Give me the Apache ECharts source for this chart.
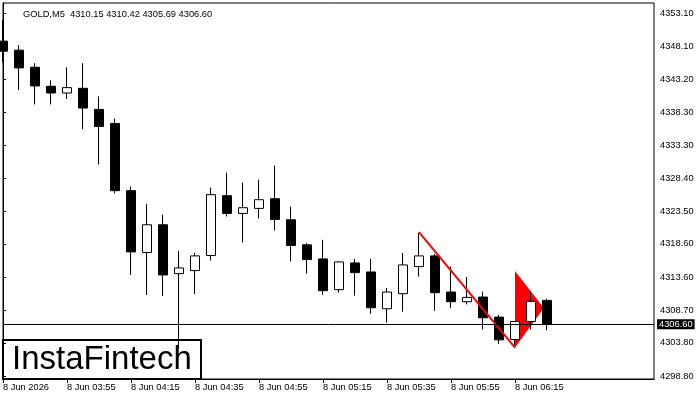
<!DOCTYPE html>
<html>
<head>
<meta charset="utf-8">
<script src="https://cdn.jsdelivr.net/npm/echarts@6/dist/echarts.min.js"></script>
<style>
  html, body { margin: 0; padding: 0; background: #fff; }
  #main { width: 700px; height: 400px; }
</style>
</head>
<body>
<div id="main"></div>
<script>
// 5 minute bars, 8 Jun
var times = ['03:35', '03:40', '03:45', '03:50', '03:55', '04:00', '04:05', '04:10', '04:15', '04:20',
             '04:25', '04:30', '04:35', '04:40', '04:45', '04:50', '04:55', '05:00', '05:05', '05:10',
             '05:15', '05:20', '05:25', '05:30', '05:35', '05:40', '05:45', '05:50', '05:55', '06:00',
             '06:05', '06:10', '06:15', '06:20', '06:25'];
var opens = [4348.90, 4347.55, 4345.00, 4342.15, 4341.15, 4341.85, 4338.70, 4336.60, 4326.55, 4317.30,
             4321.45, 4314.15, 4314.60, 4316.85, 4325.80, 4323.15, 4323.90, 4325.35, 4322.20, 4318.45,
             4316.35, 4311.75, 4315.75, 4314.40, 4308.90, 4311.15, 4315.20, 4316.80, 4311.40, 4309.95,
             4310.65, 4307.65, 4304.30, 4307.00, 4310.15];
var closes = [4347.40, 4344.90, 4342.20, 4341.15, 4341.95, 4338.90, 4336.15, 4326.55, 4317.40, 4321.45,
              4313.95, 4315.00, 4316.80, 4325.95, 4323.15, 4324.00, 4325.20, 4322.25, 4318.35, 4316.25,
              4311.60, 4315.90, 4314.30, 4309.05, 4311.40, 4315.45, 4316.80, 4311.30, 4309.95, 4310.60,
              4307.55, 4304.25, 4307.00, 4310.00, 4306.60];
var lows = [4345.75, 4341.60, 4339.45, 4339.45, 4340.25, 4335.75, 4330.45, 4326.15, 4313.95, 4310.95,
            4310.80, 4303.00, 4311.10, 4316.10, 4322.70, 4318.80, 4322.40, 4320.60, 4315.95, 4314.15,
            4311.00, 4311.30, 4310.85, 4308.15, 4306.80, 4308.45, 4313.70, 4308.60, 4309.00, 4309.55,
            4305.80, 4303.65, 4303.00, 4305.80, 4305.69];
var highs = [4352.05, 4348.30, 4345.60, 4343.05, 4345.00, 4345.60, 4340.65, 4337.35, 4327.15, 4324.60,
             4322.95, 4317.55, 4317.25, 4327.00, 4329.25, 4327.75, 4328.20, 4330.30, 4324.15, 4318.75,
             4319.20, 4315.95, 4316.35, 4316.35, 4312.00, 4317.25, 4320.25, 4317.10, 4315.20, 4313.65,
             4311.45, 4308.00, 4307.05, 4311.45, 4310.42];

var priceTicks = [4298.80, 4303.80, 4308.70, 4313.60, 4318.60, 4323.50, 4328.40, 4333.30,
                  4338.30, 4343.20, 4348.10, 4353.10];
var timeTicks = [0, 4, 8, 12, 16, 20, 24, 28, 32];

// bearish pennant: pole and flag (bar index, price)
var poleX = [26, 32];
var poleY = [4320.34, 4303.10];
var flagX = [32, 32, 33.8];
var flagY = [4314.55, 4303.10, 4309.00];

var last = closes.length - 1;
var headerText = 'GOLD,M5  ' + opens[last].toFixed(2) + ' ' + highs[last].toFixed(2) + ' ' +
                 lows[last].toFixed(2) + ' ' + closes[last].toFixed(2);

var candles = times.map(function (t, i) {
    return [i, opens[i], closes[i], lows[i], highs[i]];
});
var pole = poleX.map(function (x, i) { return [x, poleY[i]]; });
var flag = flagX.map(function (x, i) { return [x, flagY[i]]; });

var font = 'Liberation Sans';
var chart = echarts.init(document.getElementById('main'), null, { renderer: 'canvas' });

chart.setOption({
    animation: false,
    backgroundColor: '#fff',
    title: {
        text: headerText,
        left: 18,
        top: 5,
        textStyle: { fontSize: 9.3, fontWeight: 'normal', color: '#000', fontFamily: font }
    },
    grid: {
        left: 3, top: 3, width: 651, height: 376,
        show: true, borderColor: '#000', borderWidth: 1, backgroundColor: '#fff'
    },
    xAxis: {
        type: 'value',
        min: 0,
        max: 40.6875,
        splitLine: { show: false },
        axisLine: { lineStyle: { color: '#000', width: 1 } },
        axisTick: { customValues: timeTicks, length: 4, lineStyle: { color: '#000' } },
        axisLabel: {
            customValues: timeTicks,
            align: 'left',
            margin: 4,
            fontSize: 9.3,
            color: '#000',
            fontFamily: font,
            formatter: function (v) {
                return v === 0 ? '8 Jun 2026' : '8 Jun ' + times[v];
            }
        }
    },
    yAxis: {
        type: 'value',
        position: 'right',
        min: 4298.4,
        max: 4354.6,
        splitLine: { show: false },
        axisLine: { show: true, lineStyle: { color: '#000', width: 1 } },
        axisTick: { customValues: priceTicks, length: 3, lineStyle: { color: '#000' } },
        axisLabel: {
            customValues: priceTicks,
            margin: 6,
            fontSize: 9.3,
            color: '#000',
            fontFamily: font,
            formatter: function (v) { return v.toFixed(2); }
        }
    },
    series: [
        {
            type: 'custom',
            z: 1,
            silent: true,
            clip: true,
            data: [0],
            renderItem: function (params, api) {
                var pts = flag.map(function (p) { return api.coord(p); });
                return { type: 'polygon', shape: { points: pts }, style: { fill: '#ff0000' } };
            }
        },
        {
            type: 'candlestick',
            z: 2,
            clip: true,
            barWidth: 10,
            encode: { x: 0, y: [1, 2, 3, 4] },
            data: candles,
            itemStyle: {
                color: '#fff', color0: '#000',
                borderColor: '#000', borderColor0: '#000',
                borderWidth: 1
            },
            markLine: {
                silent: true,
                symbol: 'none',
                data: [{ yAxis: closes[last] }],
                lineStyle: { color: '#000', width: 1, type: 'solid' },
                label: {
                    position: 'end',
                    distance: 3,
                    formatter: function (p) { return p.value.toFixed(2); },
                    backgroundColor: '#000',
                    color: '#fff',
                    padding: [1, 2, 0, 2],
                    fontSize: 9.3,
                    fontFamily: font
                }
            }
        },
        {
            type: 'line',
            z: 3,
            data: pole,
            symbol: 'none',
            lineStyle: { color: '#ff0000', width: 2 }
        }
    ],
    graphic: [{
        type: 'group',
        z: 100,
        children: [
            {
                type: 'rect',
                shape: { x: 3, y: 340, width: 198, height: 39 },
                style: { fill: '#fff', stroke: '#000', lineWidth: 2 }
            },
            {
                type: 'text',
                x: 12,
                y: 360,
                style: {
                    text: 'InstaFintech',
                    fill: '#000',
                    font: '33px "Liberation Sans"',
                    verticalAlign: 'middle'
                }
            }
        ]
    }]
});
</script>
</body>
</html>
